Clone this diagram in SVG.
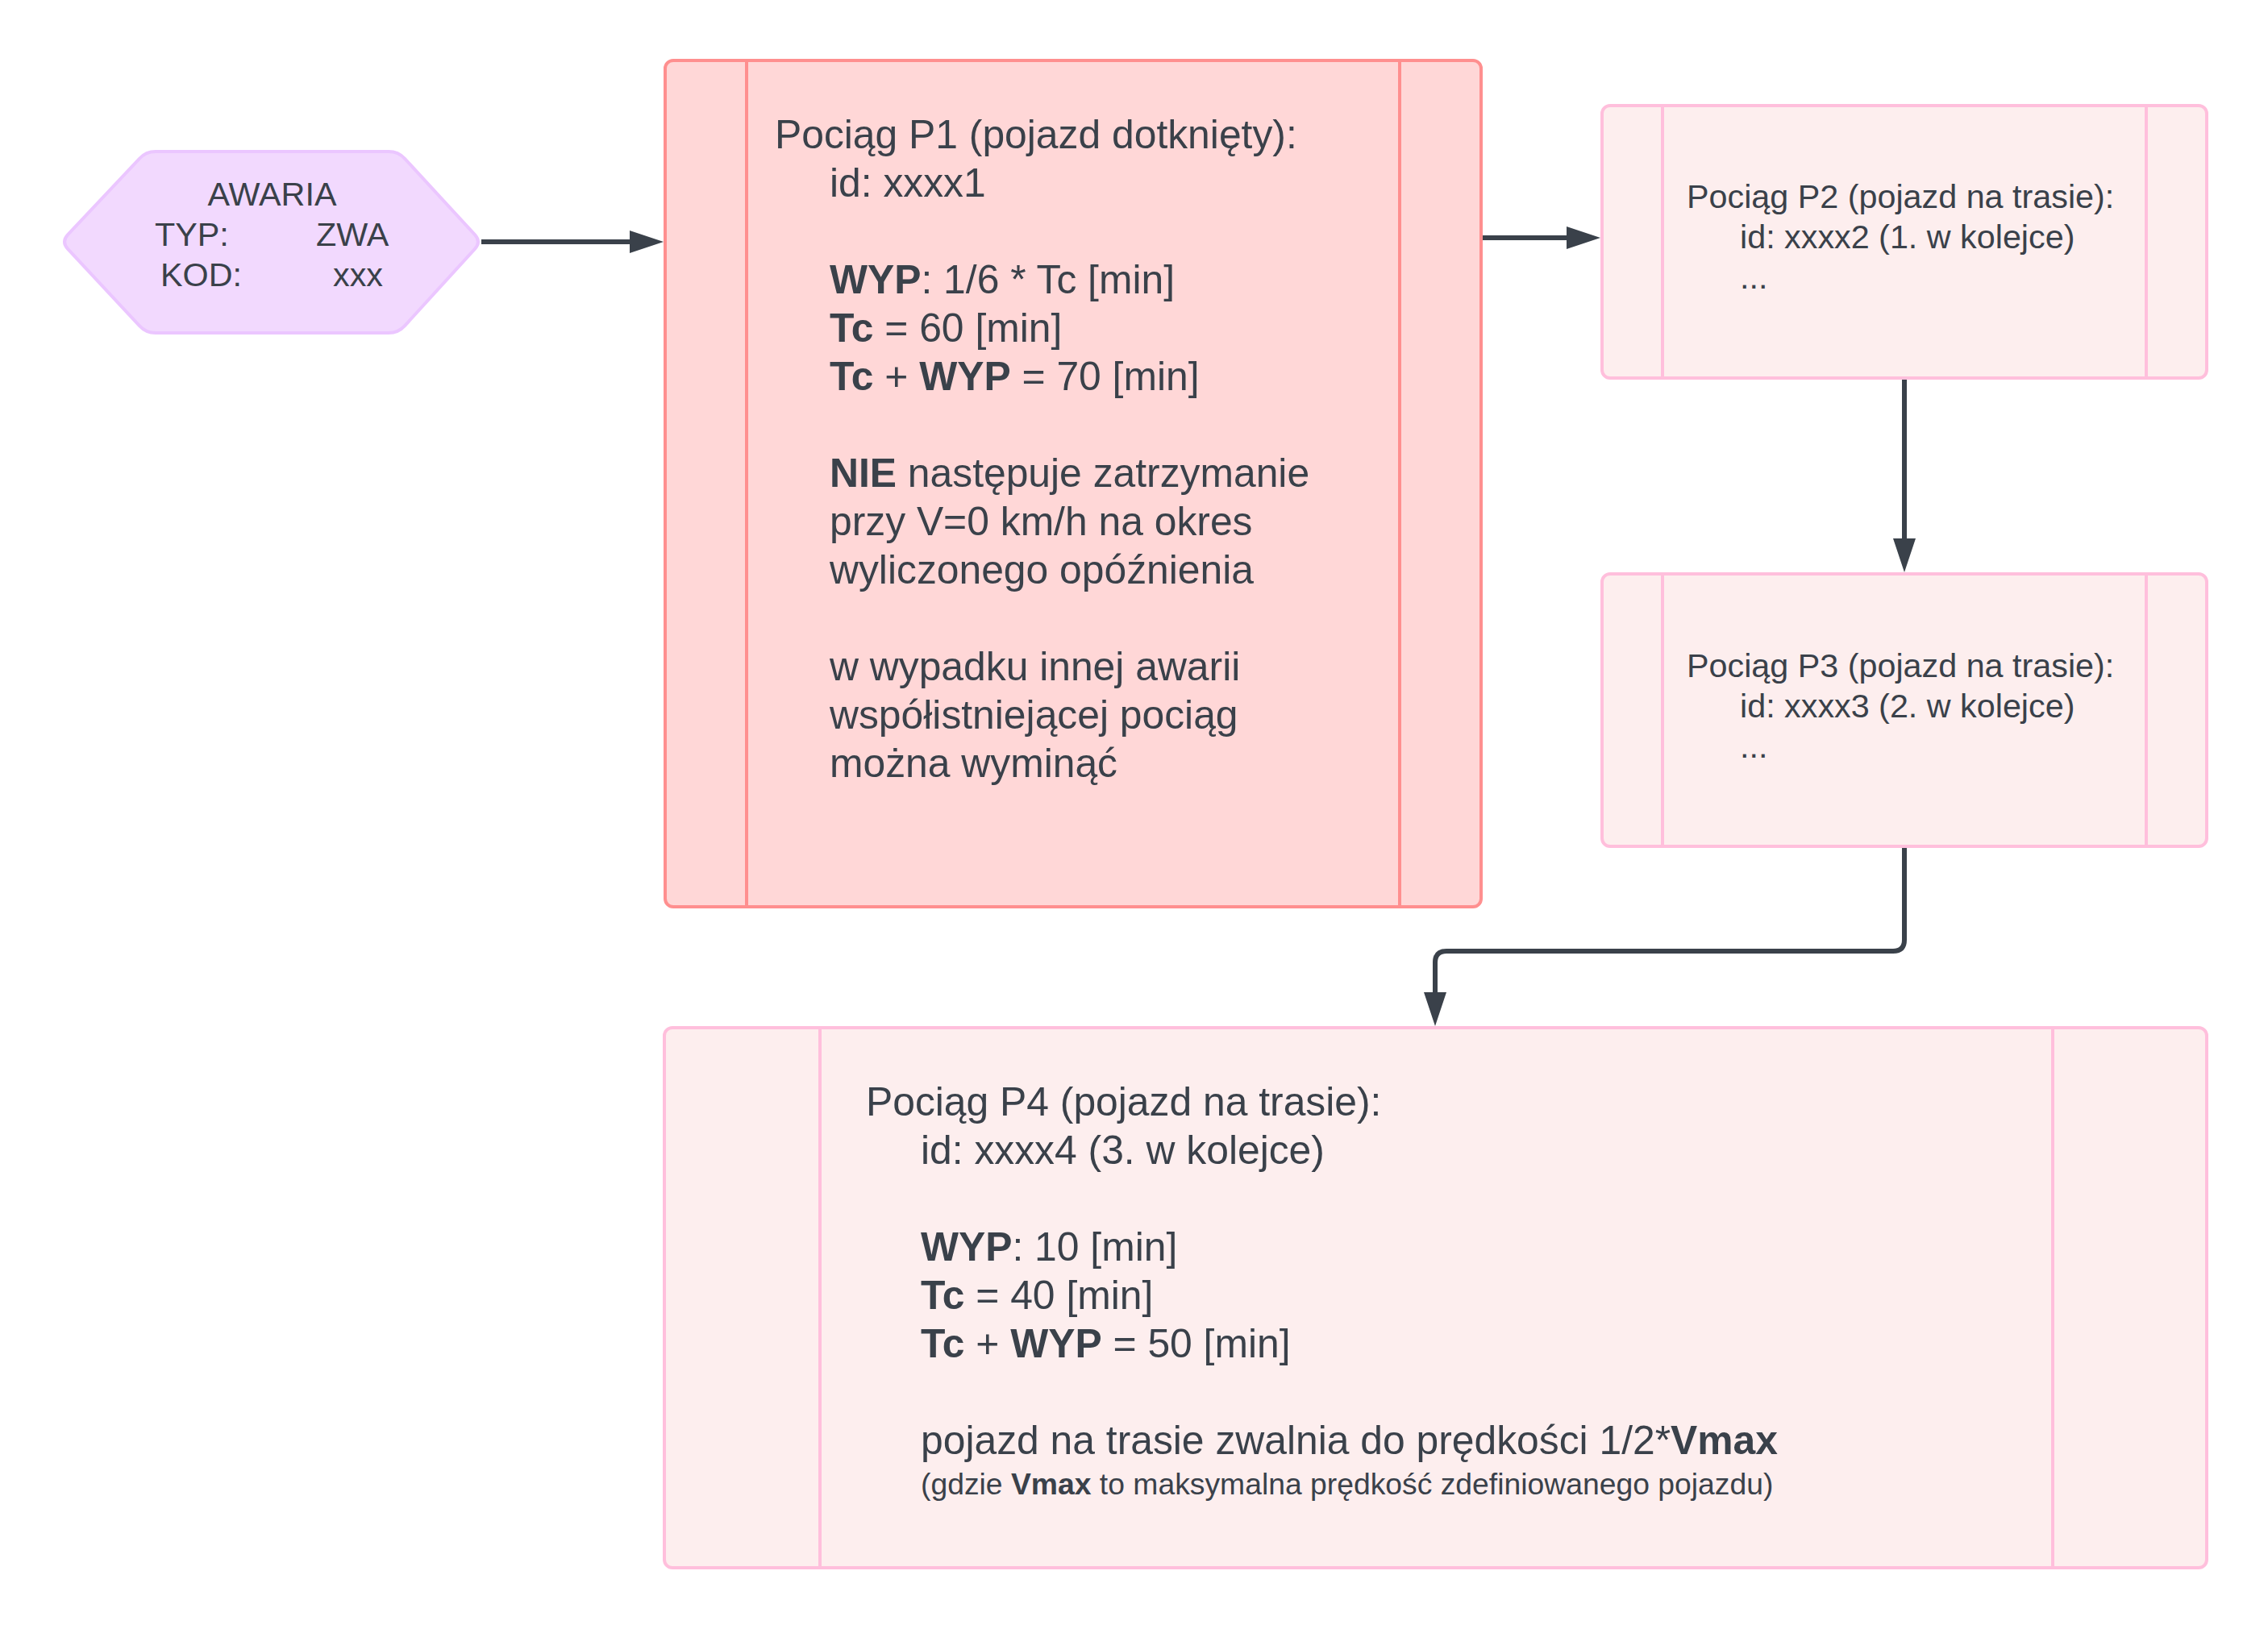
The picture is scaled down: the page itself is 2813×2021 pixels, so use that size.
<svg xmlns="http://www.w3.org/2000/svg" width="2813" height="2021" viewBox="0 0 2813 2021">
<style>
  text { font-family: "Liberation Sans", Arial, sans-serif; fill: #3a414a; }
  .big { font-size: 49.8px; }
  .mid { font-size: 41.3px; }
  .small { font-size: 37.3px; }
  .b { font-weight: bold; }
  .p1 { fill: #ffd7d7; stroke: #ff8f8f; stroke-width: 4; }
  .p1l { stroke: #ff8f8f; stroke-width: 4; fill: none; }
  .pk { fill: #fdeeee; stroke: #ffbfdc; stroke-width: 4; }
  .pkl { stroke: #ffbfdc; stroke-width: 4; fill: none; }
  .hex { fill: #f2d9fe; stroke: #ebc6ff; stroke-width: 4; }
  .conn { fill: none; stroke: #3a414a; stroke-width: 6; stroke-linejoin: round; }
</style>
<defs>
  <marker id="arrow" viewBox="0 0 42 28" refX="0" refY="14" markerWidth="42" markerHeight="28" markerUnits="userSpaceOnUse" orient="auto">
    <path d="M0,0 L42,14 L0,28 Z" fill="#3a414a"/>
  </marker>
</defs>
<rect width="2813" height="2021" fill="#ffffff"/>

<g id="connectors">
  <path class="conn" d="M597,300 H781" marker-end="url(#arrow)"/>
  <path class="conn" d="M1837,295 H1943" marker-end="url(#arrow)"/>
  <path class="conn" d="M2362,469 V668" marker-end="url(#arrow)"/>
  <path class="conn" d="M2362,1050 V1166 Q2362,1180 2348,1180 H1794 Q1780,1180 1780,1194 V1231" marker-end="url(#arrow)"/>
</g>

<g id="awaria">
  <path class="hex" d="M84.1,291.2 L172.9,196.8 Q181,188 193,188 L482,188 Q494,188 502.1,196.8 L588.9,291.2 Q597,300 588.9,308.9 L502.1,404.1 Q494,413 482,413 L193,413 Q181,413 172.9,404.1 L84.1,308.9 Q76,300 84.1,291.2 Z"/>
  <text class="mid" x="337.5" y="255" text-anchor="middle">AWARIA</text>
  <text class="mid"><tspan x="192" y="305">TYP:</tspan><tspan x="392" y="305">ZWA</tspan></text>
  <text class="mid"><tspan x="199" y="355">KOD:</tspan><tspan x="413" y="355">xxx</tspan></text>
</g>

<g id="p1">
  <rect class="p1" x="825" y="75" width="1012" height="1050" rx="10"/>
  <line class="p1l" x1="926" y1="75" x2="926" y2="1125"/>
  <line class="p1l" x1="1736" y1="75" x2="1736" y2="1125"/>
  <text class="big" x="961" y="184">Pociąg P1 (pojazd dotknięty):</text>
  <text class="big" x="1029" y="244">id: xxxx1</text>
  <text class="big" x="1029" y="364"><tspan class="b">WYP</tspan>: 1/6 * Tc [min]</text>
  <text class="big" x="1029" y="424"><tspan class="b">Tc</tspan> = 60 [min]</text>
  <text class="big" x="1029" y="484"><tspan class="b">Tc</tspan> + <tspan class="b">WYP</tspan> = 70 [min]</text>
  <text class="big" x="1029" y="604"><tspan class="b">NIE</tspan> następuje zatrzymanie</text>
  <text class="big" x="1029" y="664">przy V=0 km/h na okres</text>
  <text class="big" x="1029" y="724">wyliczonego opóźnienia</text>
  <text class="big" x="1029" y="844">w wypadku innej awarii</text>
  <text class="big" x="1029" y="904">współistniejącej pociąg</text>
  <text class="big" x="1029" y="964">można wyminąć</text>
</g>

<g id="p2">
  <rect class="pk" x="1987" y="131" width="750" height="338" rx="10"/>
  <line class="pkl" x1="2062" y1="131" x2="2062" y2="469"/>
  <line class="pkl" x1="2662" y1="131" x2="2662" y2="469"/>
  <text class="mid" x="2092" y="258">Pociąg P2 (pojazd na trasie):</text>
  <text class="mid" x="2158" y="308">id: xxxx2 (1. w kolejce)</text>
  <text class="mid" x="2158" y="358">...</text>
</g>

<g id="p3">
  <rect class="pk" x="1987" y="712" width="750" height="338" rx="10"/>
  <line class="pkl" x1="2062" y1="712" x2="2062" y2="1050"/>
  <line class="pkl" x1="2662" y1="712" x2="2662" y2="1050"/>
  <text class="mid" x="2092" y="840">Pociąg P3 (pojazd na trasie):</text>
  <text class="mid" x="2158" y="890">id: xxxx3 (2. w kolejce)</text>
  <text class="mid" x="2158" y="940">...</text>
</g>

<g id="p4">
  <rect class="pk" x="824" y="1275" width="1913" height="670" rx="10"/>
  <line class="pkl" x1="1017" y1="1275" x2="1017" y2="1945"/>
  <line class="pkl" x1="2546" y1="1275" x2="2546" y2="1945"/>
  <text class="big" x="1074" y="1384">Pociąg P4 (pojazd na trasie):</text>
  <text class="big" x="1142" y="1444">id: xxxx4 (3. w kolejce)</text>
  <text class="big" x="1142" y="1564"><tspan class="b">WYP</tspan>: 10 [min]</text>
  <text class="big" x="1142" y="1624"><tspan class="b">Tc</tspan> = 40 [min]</text>
  <text class="big" x="1142" y="1684"><tspan class="b">Tc</tspan> + <tspan class="b">WYP</tspan> = 50 [min]</text>
  <text class="big" x="1142" y="1804">pojazd na trasie zwalnia do prędkości 1/2*<tspan class="b">Vmax</tspan></text>
  <text class="small" x="1142" y="1854">(gdzie <tspan class="b">Vmax</tspan> to maksymalna prędkość zdefiniowanego pojazdu)</text>
</g>
</svg>
